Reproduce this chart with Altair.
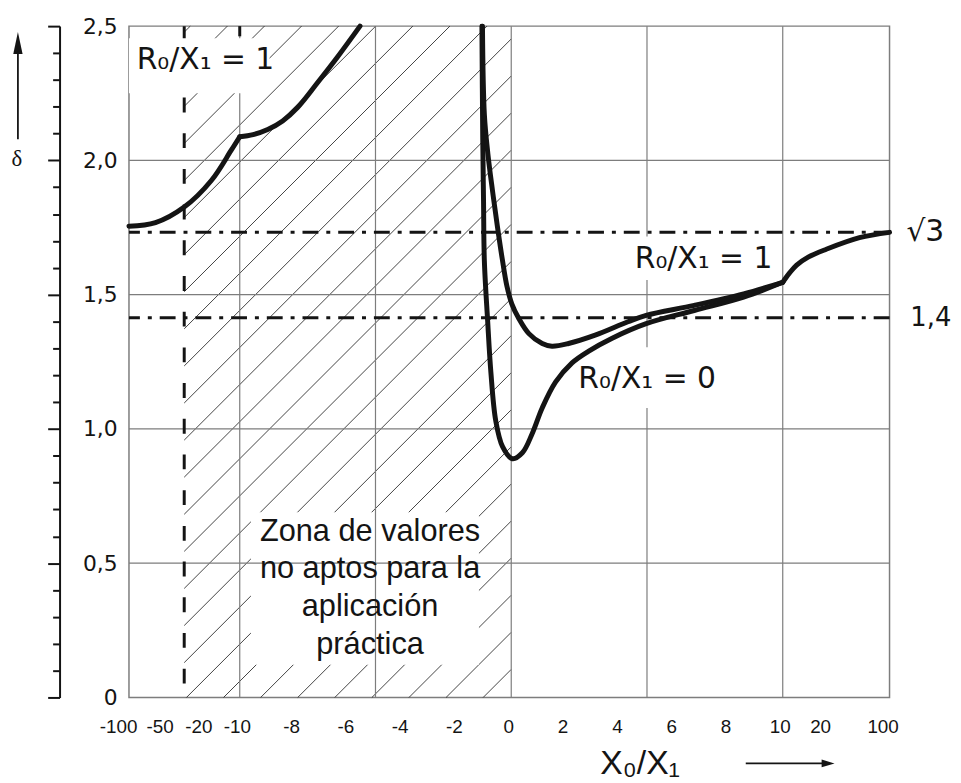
import altair as alt
import numpy as np
import pandas as pd

# ---------------- values ----------------
X_BREAKS = [-100, -50, -20, -10, 10, 20, 100]          # piecewise axis breakpoints
X_TICKS = [-100, -50, -20, -10, -8, -6, -4, -2, 0, 2, 4, 6, 8, 10, 20, 100]
Y_LABELS = [0, 0.5, 1.0, 1.5, 2.0, 2.5]
Y_TICKS = [0.0, 0.1, 0.2, 0.3, 0.4, 0.5, 0.6, 0.7, 0.8, 0.9, 1.0, 1.1, 1.2,
           1.3, 1.4, 1.5, 1.6, 1.7, 1.8, 1.9, 2.0, 2.1, 2.2, 2.3, 2.4, 2.5]
GRID_X = [-10, -5, 0, 5, 10]
GRID_Y = [0.5, 1.0, 1.5, 2.0]

# left branch (X0/X1 < -1)
LEFT_A_X = [-100, -60.7, -33.3, -17.4, -12.25, -10]
LEFT_A_D = [1.755, 1.768, 1.826, 1.925, 2.037, 2.088]
LEFT_B_X = [-10, -9.51, -8.97, -8.42, -7.87, -7.13, -6.40, -5.57]
LEFT_B_D = [2.088, 2.096, 2.115, 2.147, 2.197, 2.290, 2.385, 2.500]
# R0/X1 = 0
R0_X = [-1.08, -1.05, -1.02, -0.99, -0.87, -0.75, -0.57, -0.32, 0.04, 0.41, 0.77,
        1.14, 1.63, 2.24, 2.84, 3.70, 4.97, 6.74, 8.56, 10]
R0_D = [2.500, 2.086, 1.846, 1.626, 1.404, 1.211, 1.030, 0.934, 0.889, 0.911, 0.982,
        1.078, 1.174, 1.246, 1.289, 1.337, 1.392, 1.441, 1.491, 1.546]
# R0/X1 = 1
R1_X = [-1.06, -0.99, -0.86, -0.69, -0.51, -0.33, -0.16, 0.02, 0.28, 0.65, 1.14,
        1.50, 2.11, 3.09, 4.30, 4.97, 6.74, 8.56, 10]
R1_D = [2.500, 2.171, 2.024, 1.887, 1.754, 1.632, 1.532, 1.466, 1.411, 1.355, 1.318,
        1.308, 1.318, 1.349, 1.399, 1.423, 1.460, 1.503, 1.546]
# common tail (X0/X1 > 10)
TAIL_X = [10, 11.65, 13.44, 16.3, 23.9, 63.8, 100]
TAIL_D = [1.546, 1.580, 1.610, 1.640, 1.669, 1.712, 1.732]

SQRT3 = 1.732
ROOT2 = 1.414
X_LIMIT = -33.3          # vertical dashed limit line

LABEL_TEXT = ["R₀/X₁ = 1", "R₀/X₁ = 1", "R₀/X₁ = 0"]
LABEL_X = [-88.6, 4.55, 2.47]
LABEL_Y = [2.339, 1.599, 1.152]
BOX_X1 = [-100, 4.3, 2.25]
BOX_X2 = [-8.9, 9.85, 7.77]
BOX_Y1 = [2.25, 1.555, 1.078]
BOX_Y2 = [2.455, 1.717, 1.304]

ZONA_TEXT = ["Zona de valores\nno aptos para la\naplicación\npráctica"]
ZONA_X = [-5.2]
ZONA_Y = [0.617]
ZBOX_X1, ZBOX_X2, ZBOX_Y1, ZBOX_Y2 = [-9.59], [-1.19], [0.122], [0.69]

RIGHT_TEXT = ["√3", "1,4"]
RIGHT_Y = [SQRT3, ROOT2]

# ---------------- layout ----------------
W, H = 767, 677
X_RANGE = [0, 34, 73, 111.7, 659.3, 700, 767]
FONT = "Liberation Sans"
WIDE = "DejaVu Sans"
INK = "#141414"
GRID = "#7d7d7d"

xs = alt.Scale(domain=X_BREAKS, range=X_RANGE, nice=False, zero=False)
ys = alt.Scale(domain=[0, 2.5], nice=False, zero=False)

XAX = alt.Axis(
    values=X_TICKS, labelExpr="'' + datum.value", domain=False, ticks=False,
    grid=False, labelFont=FONT, labelFontSize=19, labelColor=INK, labelPadding=20,
    labelFlush=False,
    labelOffset={"condition": [{"test": "datum.value == -100", "value": -11},
                               {"test": "datum.value == 100", "value": -7}],
                 "value": -3},
    labelOverlap=False,
    title="X₀/X₁", titleFont=FONT, titleFontSize=34, titleFontWeight="normal",
    titleColor=INK, titleX=515, titleY=77, titleAlign="center",
    titleBaseline="alphabetic")


def X(field):
    return alt.X(field, type="quantitative", scale=xs, axis=XAX)


def Y(field):
    return alt.Y(field, type="quantitative", scale=ys, axis=None)


# curves table
segs = [("la", LEFT_A_X, LEFT_A_D), ("lb", LEFT_B_X, LEFT_B_D),
        ("r0", R0_X, R0_D), ("r1", R1_X, R1_D), ("tail", TAIL_X, TAIL_D)]
rows = []
for name, xv, dv in segs:
    for i, (a, b) in enumerate(zip(xv, dv)):
        rows.append({"seg": name, "i": i, "x": a, "d": b})
curves_df = pd.DataFrame(rows)

# hatch pattern (45 deg lines in the unusable zone), built through the scale
xa = float(np.interp(X_LIMIT, X_BREAKS, X_RANGE))
xb = float(np.interp(0, X_BREAKS, X_RANGE))
step = 37.4
c0 = 58 + H
hrows = []
for k in range(-40, 40):
    c = c0 + step * k
    p1 = max(xa, c - H)
    p2 = min(xb, c)
    if p2 - p1 > 0.5:
        hrows.append({
            "x1": float(np.interp(p1, X_RANGE, X_BREAKS)),
            "y1": 2.5 * (1 - (c - p1) / H),
            "x2": float(np.interp(p2, X_RANGE, X_BREAKS)),
            "y2": 2.5 * (1 - (c - p2) / H),
        })
hatch_df = pd.DataFrame(hrows)

one = pd.DataFrame({"k": [0]})

hatch = alt.Chart(hatch_df).mark_rule(color=INK, strokeWidth=0.8).encode(
    x=X("x1"), x2="x2", y=Y("y1"), y2="y2")

zbox = alt.Chart(pd.DataFrame({"x1": ZBOX_X1, "x2": ZBOX_X2, "y1": ZBOX_Y1, "y2": ZBOX_Y2})).mark_rect(
    color="white").encode(x=X("x1"), x2="x2", y=Y("y1"), y2="y2")

grid_x = alt.Chart(pd.DataFrame({"x": GRID_X})).mark_rule(color=GRID, strokeWidth=1.2).encode(
    x=X("x"))

grid_y = alt.Chart(pd.DataFrame({"y": GRID_Y})).mark_rule(color=GRID, strokeWidth=1.2).encode(
    y=alt.Y("y:Q", scale=ys, axis=alt.Axis(
        orient="left", values=Y_LABELS,
        labelExpr="datum.value == 0 ? '0' : replace(format(datum.value, '.1f'), '.', ',')",
        domain=False, ticks=False, grid=False, labelFont=WIDE,
        labelFontSize=22, labelColor=INK, labelPadding=12, title=None)))

vdash = alt.Chart(pd.DataFrame({"x": [X_LIMIT]})).mark_rule(
    color=INK, strokeWidth=3, strokeDash=[15, 21]).encode(x=X("x"))

topdash = alt.Chart(pd.DataFrame({"x": [-10], "y1": [2.5], "y2": [2.462]})).mark_rule(
    color=INK, strokeWidth=3).encode(x=X("x"), y=Y("y1"), y2="y2")

hdash = alt.Chart(pd.DataFrame({"y": [SQRT3, ROOT2]})).mark_rule(
    color=INK, strokeWidth=3, strokeDash=[16, 8, 4, 8]).encode(y=Y("y"))

boxes = alt.Chart(pd.DataFrame({"x1": BOX_X1, "x2": BOX_X2, "y1": BOX_Y1, "y2": BOX_Y2})).mark_rect(
    color="white").encode(x=X("x1"), x2="x2", y=Y("y1"), y2="y2")

major_test = "abs(datum.value * 2 - round(datum.value * 2)) < 0.01"
curves = alt.Chart(curves_df).mark_line(
    color=INK, strokeWidth=5, interpolate="catmull-rom", strokeCap="round", strokeJoin="round").encode(
    x=X("x"),
    y=alt.Y("d:Q", scale=ys, axis=alt.Axis(
        orient="left", offset=70, values=Y_TICKS, labels=False, grid=False,
        domain=True, domainColor=INK, domainWidth=2, ticks=True, tickColor=INK, tickWidth=2,
        tickSize={"condition": {"test": major_test, "value": 12}, "value": 7},
        title=None)),
    detail="seg:N", order="i:Q")

labels = alt.Chart(pd.DataFrame({"t": LABEL_TEXT, "x": LABEL_X, "y": LABEL_Y})).mark_text(
    align="left", baseline="alphabetic", font=WIDE, fontSize=30, color=INK).encode(
    x=X("x"), y=Y("y"), text="t:N")

zona = alt.Chart(pd.DataFrame({"t": ZONA_TEXT, "x": ZONA_X, "y": ZONA_Y})).mark_text(
    align="center", baseline="middle", font=FONT, fontSize=31, lineHeight=38,
    lineBreak="\n", color=INK).encode(x=X("x"), y=Y("y"), text="t:N")

right_sqrt = alt.Chart(pd.DataFrame({"t": RIGHT_TEXT[:1], "y": RIGHT_Y[:1], "x": [100]})).mark_text(
    align="left", baseline="middle", dx=17, font=WIDE, fontSize=30, color=INK).encode(
    x=X("x"), y=Y("y"), text="t:N")

right_14 = alt.Chart(pd.DataFrame({"t": RIGHT_TEXT[1:], "y": RIGHT_Y[1:], "x": [100]})).mark_text(
    align="left", baseline="middle", dx=21, font=WIDE, fontSize=26, color=INK).encode(
    x=X("x"), y=Y("y"), text="t:N")

# decorations: delta symbol and arrows beside the axes
delta = alt.Chart(one).mark_text(
    text="δ", font="Liberation Serif", fontSize=23, color=INK, align="center", baseline="middle").encode(
    x=alt.value(-113), y=alt.value(134))
up_shaft = alt.Chart(one).mark_rule(color=INK, strokeWidth=1.8).encode(
    x=alt.value(-112), y=alt.value(114), y2=alt.value(22))
up_head = alt.Chart(one).mark_point(
    shape="M0,-1 L0.42,1 L-0.42,1 Z", filled=True, color=INK, opacity=1, size=500).encode(
    x=alt.value(-112), y=alt.value(17))
r_shaft = alt.Chart(one).mark_rule(color=INK, strokeWidth=1.6).encode(
    x=alt.value(622), x2=alt.value(702), y=alt.value(743.5))
r_head = alt.Chart(one).mark_point(
    shape="M1,0 L-1,-0.6 L-1,0.6 Z", filled=True, color=INK, opacity=1, size=169).encode(
    x=alt.value(705), y=alt.value(743.5))

chart = alt.layer(
    hatch, zbox, grid_x, grid_y, vdash, topdash, hdash, boxes, curves,
    labels, zona, right_sqrt, right_14, delta, up_shaft, up_head, r_shaft, r_head
).resolve_axis(y="independent").properties(
    width=W, height=H,
    padding={"left": 122, "top": 15, "right": 64, "bottom": 83},
    autosize=alt.AutoSizeParams(type="none"),
    background="white",
).configure_view(stroke=GRID, strokeWidth=1.5)

chart.save("out.html", embed_options={"renderer": "svg", "actions": False})
